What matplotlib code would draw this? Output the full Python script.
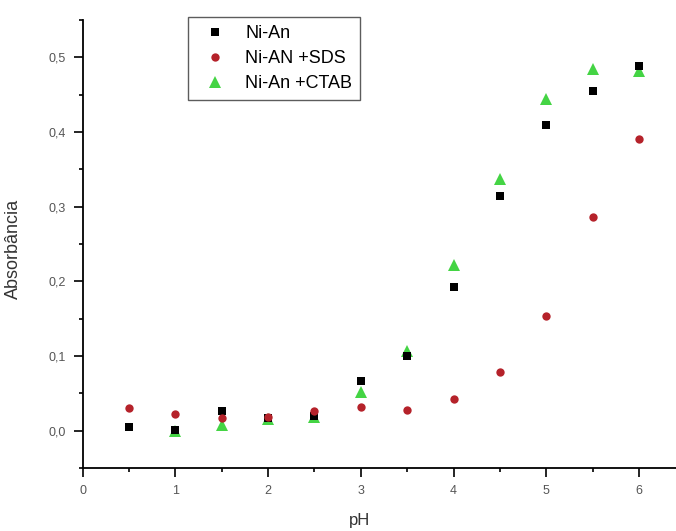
import numpy as np
import matplotlib
matplotlib.use("Agg")
import matplotlib.pyplot as plt
from matplotlib.ticker import MultipleLocator, FuncFormatter

plt.rcParams['font.family'] = ['Liberation Sans', 'DejaVu Sans']

# valores
ph = [0.5, 1.0, 1.5, 2.0, 2.5, 3.0, 3.5, 4.0, 4.5, 5.0, 5.5, 6.0]
ni_an = [0.005, 0.001, 0.027, 0.017, 0.020, 0.066, 0.100, 0.192, 0.314, 0.410, 0.455, 0.489]
ni_sds = [0.031, 0.023, 0.017, 0.018, 0.026, 0.032, 0.028, 0.043, 0.078, 0.153, 0.286, 0.390]
ph_ctab = [1.0, 1.5, 2.0, 2.5, 3.0, 3.5, 4.0, 4.5, 5.0, 5.5, 6.0]
ni_ctab = [0.000, 0.008, 0.016, 0.019, 0.052, 0.107, 0.222, 0.337, 0.444, 0.485, 0.482]

fig = plt.figure(figsize=(6.76, 5.31), dpi=100)
ax = fig.add_axes([0.1223, 0.1186, 0.8777, 0.8437])

ax.plot(ph, ni_an, 's', color='black', ms=6, mew=0, label='Ni-An', zorder=3)
ax.plot(ph, ni_sds, 'o', color='#b5222a', ms=6, mew=0, label='Ni-AN +SDS', zorder=4)
ax.plot(ph_ctab, ni_ctab, '^', color='#44d444', ms=8, mew=0, label='Ni-An +CTAB', zorder=2)

ax.set_xlim(0, 6.4)
ax.set_ylim(-0.05, 0.55)
ax.xaxis.set_major_locator(MultipleLocator(1))
ax.xaxis.set_minor_locator(MultipleLocator(0.5))
ax.yaxis.set_major_locator(MultipleLocator(0.1))
ax.yaxis.set_minor_locator(MultipleLocator(0.05))
ax.yaxis.set_major_formatter(FuncFormatter(lambda v, p: f"{v:.1f}".replace('.', ',').replace('-0,0', '0,0')))
ax.xaxis.set_major_formatter(FuncFormatter(lambda v, p: f"{v:.0f}"))

for s in ['top', 'right']:
    ax.spines[s].set_visible(False)
for s in ['left', 'bottom']:
    ax.spines[s].set_linewidth(1.3)

ax.tick_params(which='major', direction='out', length=6.5, width=1.2, labelsize=9,
               labelcolor='#555555', pad=5.5)
ax.tick_params(which='minor', direction='out', length=3, width=1.2)

ax.set_xlabel('pH', fontsize=12, color='#333333')
ax.set_ylabel('Absorbância', fontsize=13, color='#333333')
ax.xaxis.set_label_coords(0.467, -0.10)
ax.yaxis.set_label_coords(-0.102, 0.49)

leg = ax.legend(loc='upper left', bbox_to_anchor=(0.163, 1.027), fontsize=13, frameon=True,
                fancybox=False, edgecolor='#333333', handletextpad=0.7, borderpad=0.45,
                labelspacing=0.45, markerscale=1.0)
leg.get_frame().set_linewidth(1.0)

fig.savefig('out.png', dpi=100)
